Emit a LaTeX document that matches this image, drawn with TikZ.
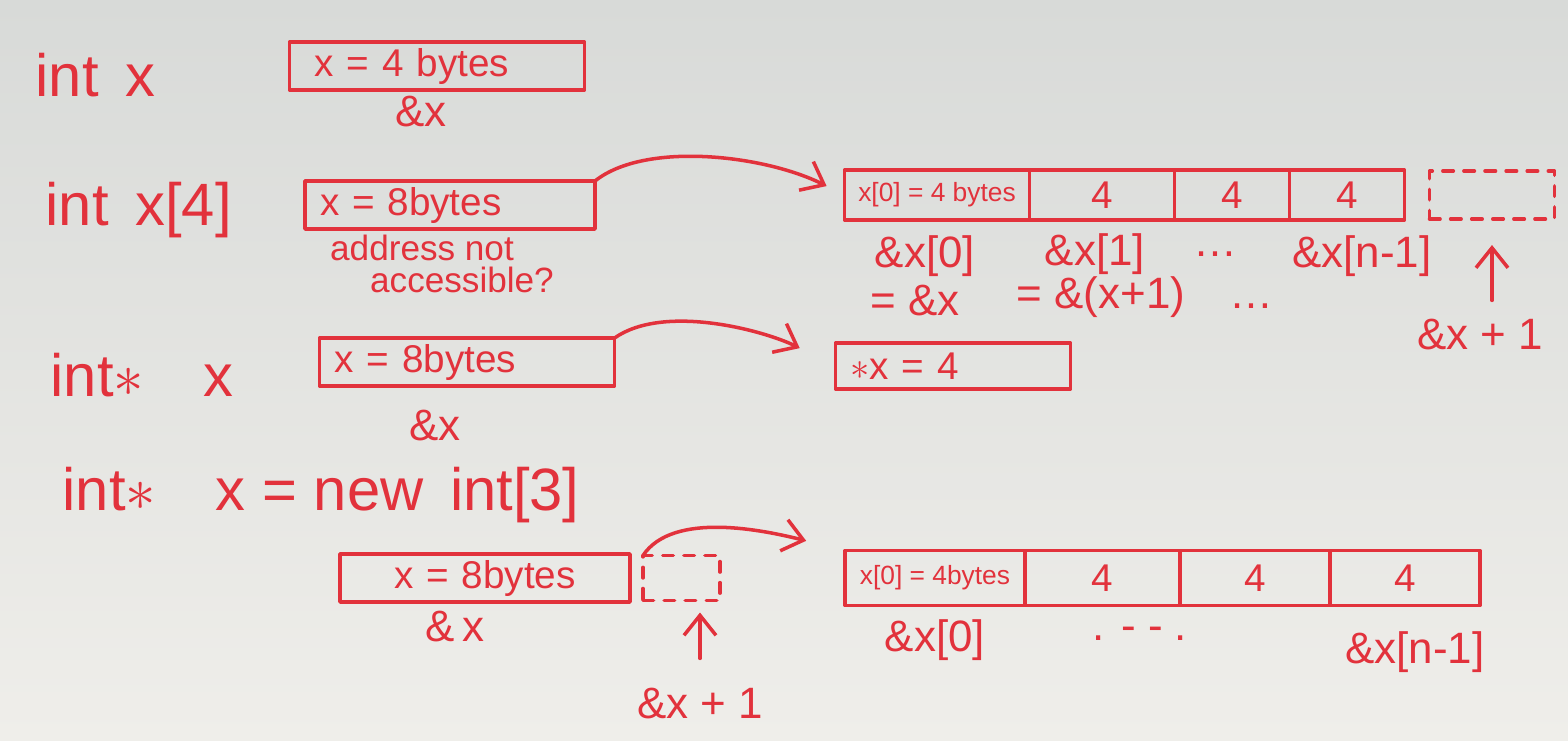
\documentclass[tikz,border=0pt]{standalone}
\usepackage{fontspec}
\setmainfont{Liberation Sans}
\usetikzlibrary{arrows.meta,positioning}
\definecolor{ink}{HTML}{E2323C}
\definecolor{boardtop}{HTML}{D8DAD8}
\definecolor{boardbot}{HTML}{EFEEEA}
\tikzset{
  every picture/.style={line join=round, line cap=round, >=Stealth},
  pen/.style={draw=ink, line width=1pt},
  decl/.style={text=ink, anchor=west, inner sep=0pt, font=\fontsize{17}{20}\selectfont},
  membox/.style={pen, outer sep=0pt, minimum height=4.8mm, inner xsep=1.5mm, inner ysep=0pt,
    align=left, text=ink, font=\fontsize{11}{13}\selectfont},
  memcell/.style={pen, outer sep=0pt, minimum height=5mm, inner sep=1pt, text=ink,
    font=\fontsize{11}{13}\selectfont},
  smallcell/.style={font=\fontsize{7.5}{9}\selectfont},
  ghost/.style={pen, dashed, outer sep=0pt, minimum height=4.8mm},
  addr/.style={text=ink, inner sep=1pt, font=\fontsize{12.5}{15}\selectfont},
  note/.style={text=ink, inner sep=1pt, align=left, font=\fontsize{10}{9}\selectfont},
  link/.style={pen, -{Straight Barb[length=2mm,width=3.2mm]}},
}

\begin{document}
\begin{tikzpicture}[x=0.1mm,y=-0.1mm]
\shade[top color=boardtop,bottom color=boardbot] (0,0) rectangle (1568,740);
\useasboundingbox (0,0) rectangle (1568,740);

\node[decl] (declint) at (35,75) {int\, x};
\node[membox,text width=26.5mm] (intbox) at (437,66) {\hspace*{1mm}x = 4 bytes};
\node[addr] (intaddr) at (421,112) {\&x};

\node[decl] (declarr) at (45,210) {int\, x[4]};
\node[membox,text width=26mm] (arrbox) at (450,205) {x = 8bytes};
\node[note] (arrnote) at (442,264) {address not\\\hspace*{4mm}accessible?};
\node[memcell,smallcell,minimum width=18.5mm] (arr0) at (937,195) {x[0] = 4 bytes};
\node[memcell,minimum width=14.5mm,right=0pt of arr0] (arr1) {4};
\node[memcell,minimum width=11.5mm,right=0pt of arr1] (arr2) {4};
\node[memcell,minimum width=11.5mm,right=0pt of arr2] (arr3) {4};
\node[ghost,minimum width=12.5mm,right=2.5mm of arr3] (arrnext) {};
\node[addr] (arraddr0) at (925,256) {\&x[0]};
\node[addr] (arraddr1) at (1095,254) {\&x[1]};
\node[addr] (arrdots) at (1215,254) {\dots};
\node[addr] (arraddrn) at (1362,256) {\&x[n-1]};
\node[addr] (arreq0) at (915,300) {= \&x};
\node[addr] (arreq1) at (1145,297) {= \&(x+1)\quad\dots};
\node[addr] (arrplus) at (1480,335) {\&x + 1};
\draw[link,shorten >=2mm] (arrbox.north east) .. controls +(50,-40) and +(-80,-40) .. (arr0.west);
\draw[link,shorten <=1.5mm,shorten >=2.6mm] (arrplus.north -| arrnext) -- (arrnext.south);

\node[decl] (declptr) at (50,375) {int$\ast$\quad x};
\node[membox,text width=26.5mm] (ptrbox) at (467,362) {x = 8bytes};
\node[addr] (ptraddr) at (435,425) {\&x};
\node[membox,text width=20.5mm,minimum height=4.6mm] (derefbox) at (953,366) {$\ast$x = 4};
\draw[link,shorten >=4mm] (ptrbox.north east) .. controls +(50,-35) and +(-70,-35) .. (derefbox.west);

\node[decl] (declnew) at (62,495) {int$\ast$\quad x = new\, int[3]};
\node[membox,align=center,text width=26mm] (newbox) at (485,578) {x = 8bytes};
\node[addr] (newaddr) at (455,626) {\&\,x};
\node[ghost,minimum width=7.7mm,minimum height=4.5mm,right=1.3mm of newbox] (newnext) {};
\node[addr] (newplus) at (700,703) {\&x + 1};
\node[memcell,smallcell,minimum width=18mm,minimum height=5.5mm] (heap0) at (935,578) {x[0] = 4bytes};
\node[memcell,minimum width=15.5mm,minimum height=5.5mm,right=0pt of heap0] (heap1) {4};
\node[memcell,minimum width=15mm,minimum height=5.5mm,right=0pt of heap1] (heap2) {4};
\node[memcell,minimum width=15mm,minimum height=5.5mm,right=0pt of heap2] (heap3) {4};
\node[addr] (heapaddr0) at (935,640) {\&x[0]};
\node[addr] (heapdots) at (1140,634) {. - - .};
\node[addr] (heapaddrn) at (1415,652) {\&x[n-1]};
\draw[link,shorten >=4mm] (newnext.north west) .. controls +(30,-45) and +(-80,-20) .. (heap0.north west);
\draw[link,shorten <=2.5mm,shorten >=1.2mm] (newplus.north) -- (newplus.north |- newnext.south);
\end{tikzpicture}
\end{document}
